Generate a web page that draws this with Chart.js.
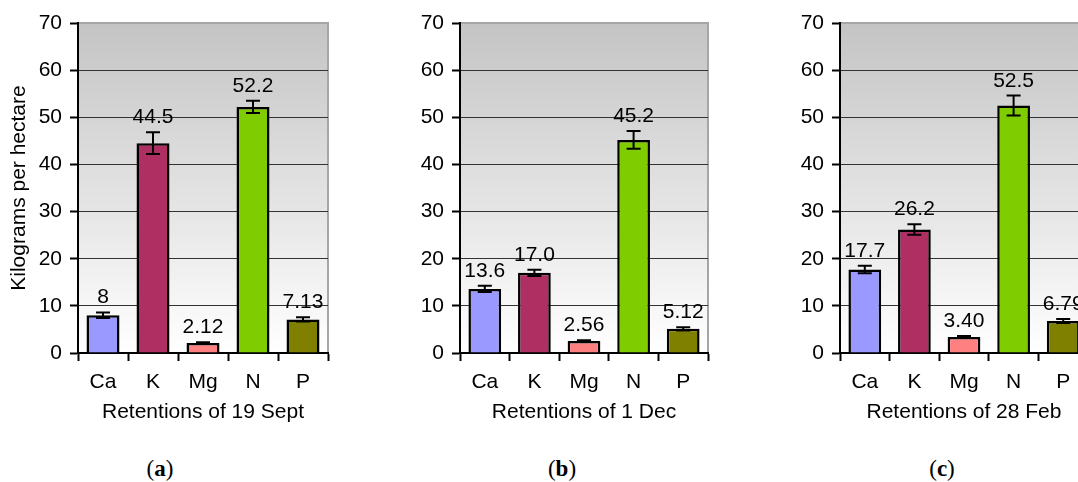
<!DOCTYPE html>
<html>
<head>
<meta charset="utf-8">
<script src="https://cdn.jsdelivr.net/npm/chart.js@4.4.1/dist/chart.umd.min.js"></script>
<style>
  body { margin: 0; width: 1078px; height: 482px; overflow: hidden; background: #fff; position: relative; }
  canvas { position: absolute; top: 0; }
  .cap { position: absolute; top: 456px; width: 60px; text-align: center; font: 23px "Liberation Serif", "DejaVu Serif", serif; color: #000; }
  .cap b { font-weight: bold; }
</style>
</head>
<body>
<canvas id="sept" width="340" height="440" style="left:0px"></canvas>
<canvas id="dec" width="338" height="440" style="left:382px"></canvas>
<canvas id="feb" width="338" height="440" style="left:762px"></canvas>
<div class="cap" style="left:130px">(<b>a</b>)</div>
<div class="cap" style="left:532px">(<b>b</b>)</div>
<div class="cap" style="left:912px">(<b>c</b>)</div>
<script>
const categories = ["Ca", "K", "Mg", "N", "P"];
const barColors = ["#9999ff", "#b02f63", "#ff8080", "#7fcc00", "#808000"];

const septValues = [8, 44.5, 2.12, 52.2, 7.13];
const septErrors = [0.6, 2.3, 0.15, 1.3, 0.45];
const septLabels = ["8", "44.5", "2.12", "52.2", "7.13"];

const decValues = [13.6, 17.0, 2.56, 45.2, 5.12];
const decErrors = [0.65, 0.65, 0.15, 1.9, 0.35];
const decLabels = ["13.6", "17.0", "2.56", "45.2", "5.12"];

const febValues = [17.7, 26.2, 3.40, 52.5, 6.79];
const febErrors = [0.8, 1.1, 0.2, 2.1, 0.4];
const febLabels = ["17.7", "26.2", "3.40", "52.5", "6.79"];

const yTicks = [0, 10, 20, 30, 40, 50, 60, 70];

const FONT = "'Liberation Sans', Arial, sans-serif";

// gradient plot area + light frame on top/right
const plotBackground = {
  id: "plotBackground",
  beforeDraw(chart) {
    const { ctx, chartArea: a } = chart;
    const g = ctx.createLinearGradient(0, a.top, 0, a.bottom);
    g.addColorStop(0, "#c4c4c4");
    g.addColorStop(1, "#ffffff");
    ctx.save();
    ctx.fillStyle = g;
    ctx.fillRect(a.left, a.top, a.right - a.left, a.bottom - a.top);
    ctx.strokeStyle = "#a6a6a6";
    ctx.lineWidth = 2;
    ctx.beginPath();
    ctx.moveTo(a.left, a.top);
    ctx.lineTo(a.right, a.top);
    ctx.lineTo(a.right, a.bottom);
    ctx.stroke();
    ctx.restore();
  },
};

// error bars and value labels (label sits just above the error cap)
const errorsAndLabels = {
  id: "errorsAndLabels",
  afterDatasetsDraw(chart, args, opts) {
    const { ctx } = chart;
    const y = chart.scales.y;
    const meta = chart.getDatasetMeta(0);
    const values = chart.data.datasets[0].data;
    ctx.save();
    ctx.strokeStyle = "#000";
    ctx.lineWidth = 2;
    meta.data.forEach((bar, i) => {
      const v = values[i];
      const e = opts.errors[i];
      const yTop = y.getPixelForValue(v + e);
      const yBot = y.getPixelForValue(v - e);
      ctx.beginPath();
      ctx.moveTo(bar.x, yTop);
      ctx.lineTo(bar.x, yBot);
      ctx.moveTo(bar.x - 7, yTop);
      ctx.lineTo(bar.x + 7, yTop);
      ctx.moveTo(bar.x - 7, yBot);
      ctx.lineTo(bar.x + 7, yBot);
      ctx.stroke();
    });
    ctx.fillStyle = "#000";
    ctx.font = "21px " + FONT;
    ctx.textAlign = "center";
    ctx.textBaseline = "alphabetic";
    meta.data.forEach((bar, i) => {
      const yTop = y.getPixelForValue(values[i] + opts.errors[i]);
      ctx.fillText(opts.labels[i], bar.x, Math.min(yTop, bar.y) - 9);
    });
    ctx.restore();
  },
};

function makeChart(id, values, errors, labels, title, withYTitle) {
  return new Chart(document.getElementById(id), {
    type: "bar",
    data: {
      labels: categories,
      datasets: [
        {
          data: values,
          backgroundColor: barColors,
          borderColor: "#000",
          borderWidth: 2.5,
          categoryPercentage: 1,
          barPercentage: 0.66,
        },
      ],
    },
    options: {
      responsive: false,
      animation: false,
      layout: { padding: { top: 23, right: 12, left: 0, bottom: 0 } },
      plugins: {
        legend: { display: false },
        tooltip: { enabled: false },
        errorsAndLabels: { errors: errors, labels: labels },
      },
      scales: {
        x: {
          afterFit: (s) => { s.height = 87; },
          grid: {
            display: true,
            drawOnChartArea: false,
            offset: true,
            tickLength: 8,
            tickColor: "#000",
            tickWidth: 2,
          },
          border: { display: true, color: "#000", width: 2 },
          ticks: { color: "#000", font: { family: FONT, size: 21 }, padding: 9 },
          title: {
            display: true,
            text: title,
            color: "#000",
            font: { family: FONT, size: 21 },
            padding: { top: 0, bottom: 15 },
          },
        },
        y: {
          min: 0,
          max: 70,
          afterFit: (s) => { s.width = 78; },
          afterBuildTicks: (s) => { s.ticks = yTicks.map((v) => ({ value: v })); },
          grid: {
            color: (c) => (c.tick.value === 0 || c.tick.value === 70 ? "rgba(0,0,0,0)" : "#333333"),
            lineWidth: 1,
            tickLength: 8,
            tickColor: "#000",
            tickWidth: 2,
          },
          border: { display: true, color: "#000", width: 2 },
          ticks: { color: "#000", font: { family: FONT, size: 21 }, padding: 8 },
          title: {
            display: withYTitle,
            text: "Kilograms per hectare",
            color: "#000",
            font: { family: FONT, size: 21 },
            padding: { top: 7, bottom: 0 },
          },
        },
      },
    },
    plugins: [plotBackground, errorsAndLabels],
  });
}

makeChart("sept", septValues, septErrors, septLabels, "Retentions of 19 Sept", true);
makeChart("dec", decValues, decErrors, decLabels, "Retentions of 1 Dec", false);
makeChart("feb", febValues, febErrors, febLabels, "Retentions of 28 Feb", false);
</script>
</body>
</html>
